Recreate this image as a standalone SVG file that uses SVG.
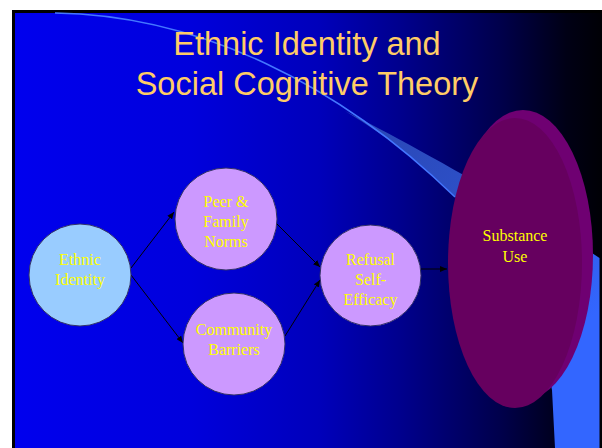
<svg xmlns="http://www.w3.org/2000/svg" width="602" height="448" viewBox="0 0 602 448">
<defs>
<linearGradient id="bg" gradientUnits="userSpaceOnUse" x1="15" y1="0" x2="602" y2="0">
<stop offset="0" stop-color="#0000EE"/>
<stop offset="0.3" stop-color="#0000DC"/>
<stop offset="0.52" stop-color="#0000BA"/>
<stop offset="0.66" stop-color="#00008C"/>
<stop offset="0.83" stop-color="#00004A"/>
<stop offset="0.94" stop-color="#000015"/>
<stop offset="1" stop-color="#000005"/>
</linearGradient>
<linearGradient id="sw" gradientUnits="userSpaceOnUse" x1="380" y1="130" x2="580" y2="330">
<stop offset="0" stop-color="#2A48B8"/>
<stop offset="0.4" stop-color="#2D50C8"/>
<stop offset="1" stop-color="#3366FF"/>
</linearGradient>
<marker id="arr" markerUnits="userSpaceOnUse" markerWidth="8" markerHeight="6" refX="7" refY="3" orient="auto">
<path d="M0,0 L7,3 L0,6 Z" fill="#000"/>
</marker>
<style>
.lbl{font-family:"Liberation Serif","Times New Roman",serif;font-size:16px;fill:#FFFF00;text-anchor:middle}
.ttl{font-family:"Liberation Sans",Arial,sans-serif;font-size:32.5px;fill:#FFCC66;text-anchor:middle}
.blue{fill:#99CCFF;stroke:#333366;stroke-width:1}
.lilac{fill:#CC99FF;stroke:#333366;stroke-width:1}
.con{stroke:#000;stroke-width:1;fill:none;marker-end:url(#arr)}
</style>
</defs>
<rect x="0" y="0" width="602" height="448" fill="#FFFFFF"/>
<rect x="12" y="10" width="590" height="438" fill="#000000"/>
<rect x="15" y="13" width="587" height="435" fill="url(#bg)"/>
<path d="M345,111 C405,141 520,205 592,253 L599.5,258 L599.5,448 L555,448 L552,390 C540,320 500,240 455,197 Q410,150 345,111 Z" fill="url(#sw)"/>
<path d="M55,13 C200,15 340,85 455,197" fill="none" stroke="#4477FF" stroke-width="1.5"/>
<text class="ttl" x="307" y="55">Ethnic Identity and</text>
<text class="ttl" x="307" y="95">Social Cognitive Theory</text>
<g id="connectors">
<line class="con" x1="131" y1="268" x2="174" y2="212"/>
<line class="con" x1="131" y1="275" x2="183" y2="343"/>
<line class="con" x1="276" y1="223" x2="320" y2="267"/>
<line class="con" x1="285" y1="336" x2="320" y2="280"/>
<line class="con" x1="421" y1="269" x2="447" y2="269"/>
</g>
<g id="substance-use">
<ellipse cx="523" cy="255" rx="70" ry="145" fill="#6F0072"/>
<ellipse cx="515" cy="263" rx="67" ry="145" fill="#66005F"/>
<text class="lbl" x="515" y="241">Substance</text>
<text class="lbl" x="515" y="262">Use</text>
</g>
<g id="ethnic-identity">
<circle class="blue" cx="80" cy="275" r="51"/>
<text class="lbl" x="80" y="265">Ethnic</text>
<text class="lbl" x="80" y="285">Identity</text>
</g>
<g id="peer-family-norms">
<circle class="lilac" cx="226" cy="219" r="51"/>
<text class="lbl" x="226" y="207">Peer &amp;</text>
<text class="lbl" x="226" y="227">Family</text>
<text class="lbl" x="226" y="247">Norms</text>
</g>
<g id="community-barriers">
<circle class="lilac" cx="234" cy="344" r="51"/>
<text class="lbl" x="234" y="335">Community</text>
<text class="lbl" x="234" y="355">Barriers</text>
</g>
<g id="refusal-self-efficacy">
<circle class="lilac" cx="370.5" cy="275.5" r="50.5"/>
<text class="lbl" x="370.5" y="265">Refusal</text>
<text class="lbl" x="370.5" y="285">Self-</text>
<text class="lbl" x="370.5" y="305">Efficacy</text>
</g>
</svg>
